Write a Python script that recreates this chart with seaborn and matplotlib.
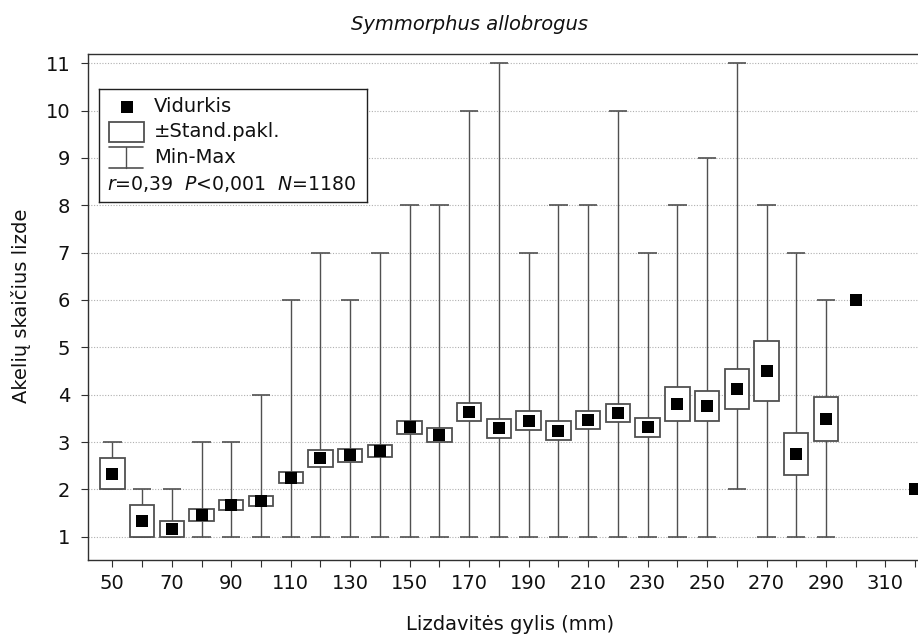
import numpy as np
import pandas as pd
import matplotlib
matplotlib.use("Agg")
import matplotlib.pyplot as plt
import seaborn as sns
from matplotlib.patches import Rectangle

# ---- data ----
depth = [50, 60, 70, 80, 90, 100, 110, 120, 130, 140, 150, 160, 170, 180,
         190, 200, 210, 220, 230, 240, 250, 260, 270, 280, 290, 300, 310, 320]
mean = [2.33, 1.33, 1.17, 1.46, 1.67, 1.76, 2.25, 2.66, 2.72, 2.81, 3.31, 3.15,
        3.63, 3.29, 3.45, 3.24, 3.47, 3.61, 3.31, 3.80, 3.76, 4.12, 4.50, 2.75,
        3.49, 6.0, np.nan, 2.0]
sd = [0.33, 0.33, 0.17, 0.12, 0.10, 0.11, 0.125, 0.18, 0.14, 0.125, 0.14, 0.14,
      0.185, 0.205, 0.195, 0.20, 0.19, 0.19, 0.20, 0.355, 0.32, 0.43, 0.63, 0.45,
      0.46, np.nan, np.nan, np.nan]
vmin = [2, 1, 1, 1, 1, 1, 1, 1, 1, 1, 1, 1, 1, 1, 1, 1, 1, 1, 1, 1, 1, 2, 1, 1,
        1, np.nan, np.nan, np.nan]
vmax = [3, 2, 2, 3, 3, 4, 6, 7, 6, 7, 8, 8, 10, 11, 7, 8, 8, 10, 7, 8, 9, 11, 8,
        7, 6, np.nan, np.nan, np.nan]
label_ticks = [50, 70, 90, 110, 130, 150, 170, 190, 210, 230, 250, 270, 290, 310]
y_ticks = [1, 2, 3, 4, 5, 6, 7, 8, 9, 10, 11]

title = "Symmorphus allobrogus"
xlabel = "Lizdavitės gylis (mm)"
ylabel = "Akelių skaičius lizde"
stats_text = r"$\it{r}$=0,39  $\it{P}$<0,001  $\it{N}$=1180"

df = pd.DataFrame(dict(depth=depth, mean=mean, sd=sd, vmin=vmin, vmax=vmax))

# ---- style ----
sns.set_style("white")
plt.rcParams['font.family'] = ['DejaVu Sans']
plt.rcParams['mathtext.fontset'] = 'dejavusans'

FS = 14
W, H = 918, 636
fig = plt.figure(figsize=(W / 100, H / 100), dpi=100)
fig.patch.set_facecolor('white')

px_per_unit = 2.9736
xlo, xhi = 41.92, 330.0
ax = fig.add_axes([88.3 / W, 1 - 560 / H, (xhi - xlo) * px_per_unit / W, (560 - 54) / H])
ax.set_xlim(xlo, xhi)
ax.set_ylim(0.508, 11.196)

ax.set_yticks(y_ticks)
ax.yaxis.grid(True, color='#b0b0b0', linestyle=(0, (1, 1.5)), lw=0.8)
ax.xaxis.grid(False)
ax.set_axisbelow(True)

line_c = '#505050'
w = df.dropna(subset=['vmax'])
cap = 3.1
ax.vlines(w['depth'], w['vmin'], w['vmax'], color=line_c, lw=1.0, zorder=2)
ax.hlines(w['vmax'], w['depth'] - cap, w['depth'] + cap, color=line_c, lw=1.2, zorder=2)
ax.hlines(w['vmin'], w['depth'] - cap, w['depth'] + cap, color=line_c, lw=1.2, zorder=2)

b = df.dropna(subset=['sd'])
ax.bar(b['depth'], 2 * b['sd'], bottom=b['mean'] - b['sd'], width=8.2,
       facecolor='white', edgecolor=line_c, linewidth=1.3, zorder=3)

sns.scatterplot(data=df, x='depth', y='mean', marker='s', s=75, color='black',
                linewidth=0, ax=ax, zorder=4, legend=False)

ax.set_xticks(depth)
ax.set_xticklabels([str(d) if d in label_ticks else '' for d in depth])
ax.set_yticklabels([str(v) for v in y_ticks])
ax.tick_params(axis='both', which='major', direction='out', length=5, width=0.8,
               color='#303030', labelsize=FS, bottom=True, left=True,
               labelcolor='#111111')
ax.tick_params(axis='x', pad=5)
ax.tick_params(axis='y', pad=8)
ax.set_xlabel('')
ax.set_ylabel('')
for s in ['left', 'bottom', 'top']:
    ax.spines[s].set_visible(True)
    ax.spines[s].set_color('#303030')
    ax.spines[s].set_linewidth(1.0)
ax.spines['right'].set_visible(False)

fig.text(469 / W, 1 - 25 / H, title, style='italic', ha='center', va='center',
         fontsize=FS, color='#111111')
fig.text(510 / W, 1 - 630 / H, xlabel, ha='center', va='baseline', fontsize=FS,
         color='#111111')
fig.text(21 / W, 1 - 306 / H, ylabel, rotation=90, ha='center', va='center',
         fontsize=FS, color='#111111')

# ---- legend box ----
lax = fig.add_axes([99 / W, 1 - 202 / H, 268 / W, 113 / H])
lax.set_xlim(0, 268)
lax.set_ylim(113, 0)
lax.set_xticks([])
lax.set_yticks([])
lax.set_facecolor('white')
for s in lax.spines.values():
    s.set_visible(True)
    s.set_color('#202020')
    s.set_linewidth(1.0)
lax.plot([27.7], [17.7], marker='s', ms=8.6, color='black', mew=0)
lax.add_patch(Rectangle((10, 33), 35, 20, facecolor='white', edgecolor=line_c, lw=1.3))
lax.plot([27, 27], [58, 79], color=line_c, lw=1.0)
lax.plot([10, 44], [58, 58], color=line_c, lw=1.2)
lax.plot([10, 44], [79, 79], color=line_c, lw=1.2)
lax.text(55, 17.5, "Vidurkis", va='center', ha='left', fontsize=FS, color='#111111')
lax.text(55, 42.5, "±Stand.pakl.", va='center', ha='left', fontsize=FS, color='#111111')
lax.text(55, 68.5, "Min-Max", va='center', ha='left', fontsize=FS, color='#111111')
lax.text(7.7, 95, stats_text, va='center', ha='left', fontsize=13.6, color='#111111')

fig.savefig("out.png", dpi=100, facecolor='white')
